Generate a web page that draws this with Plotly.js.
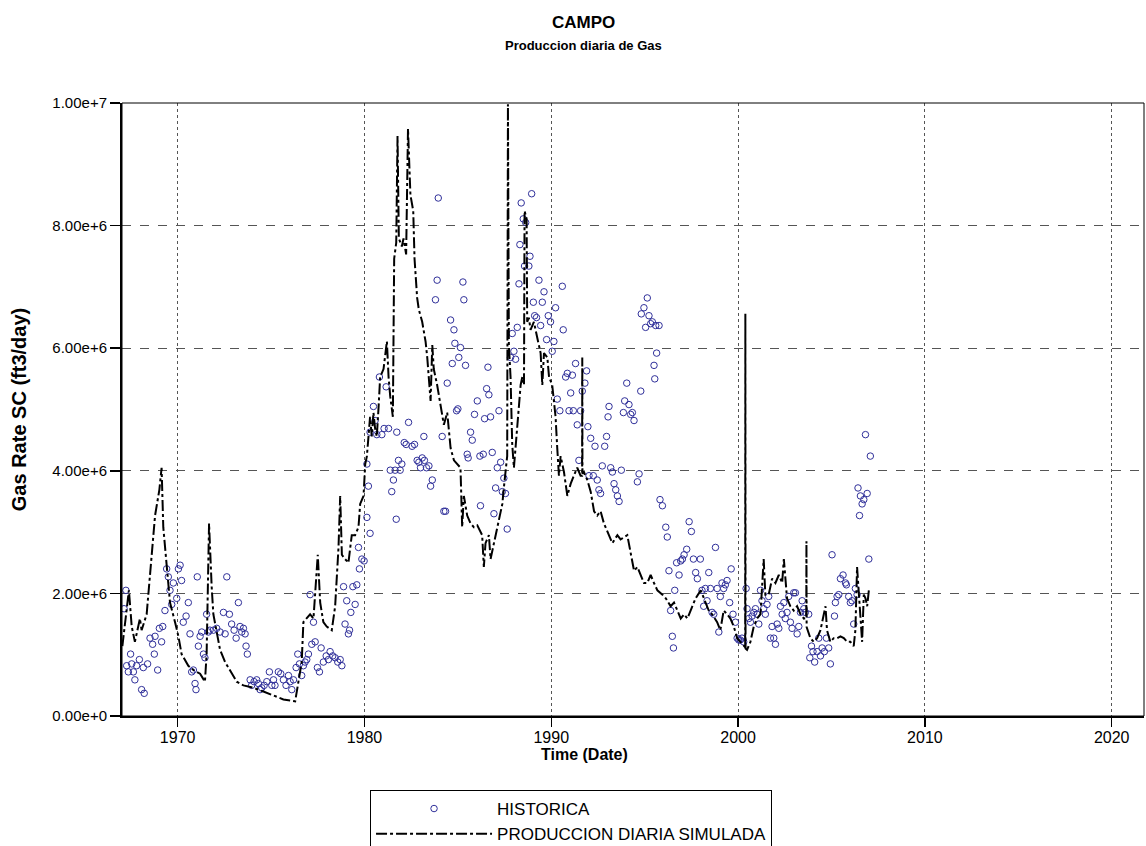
<!DOCTYPE html>
<html>
<head>
<meta charset="utf-8">
<script src="https://cdn.plot.ly/plotly-3.0.1.min.js"></script>
<style>html,body{margin:0;padding:0;background:#fff;}#chart{width:1146px;height:846px;}</style>
</head>
<body>
<div id="chart"></div>
<script>
// Values in millions of ft3/day (converted to ft3/day below)
const UNIT = 1e6;

const histYear = [
1967.13,1967.23,1967.27,1967.36,1967.48,1967.54,1967.63,1967.71,1967.80,1967.95,1968.07,1968.16,1968.21,1968.39,1968.52,1968.66,1968.75,1968.79,1968.93,1969.02,
1969.14,1969.20,1969.32,1969.41,1969.50,1969.59,1969.68,1969.77,1969.95,1970.04,1970.13,1970.21,1970.30,1970.45,1970.57,1970.66,1970.75,1970.84,1970.93,1970.98,
1971.05,1971.11,1971.20,1971.29,1971.38,1971.46,1971.55,1971.64,1971.73,1971.91,1972.09,1972.27,1972.45,1972.54,1972.63,1972.77,1972.89,1973.02,1973.13,1973.25,
1973.34,1973.43,1973.52,1973.61,1973.66,1973.73,1973.88,1973.96,1974.09,1974.23,1974.32,1974.41,1974.50,1974.63,1974.77,1974.91,1975.04,1975.13,1975.21,1975.39,
1975.52,1975.66,1975.80,1975.93,1976.02,1976.11,1976.20,1976.34,1976.43,1976.52,1976.64,1976.73,1976.82,1976.91,1977.00,1977.09,1977.18,1977.27,1977.36,1977.48,
1977.59,1977.68,1977.80,1977.95,1978.07,1978.16,1978.30,1978.43,1978.57,1978.70,1978.79,1978.88,1978.96,1979.05,1979.14,1979.20,1979.27,1979.38,1979.50,1979.59,
1979.68,1979.73,1979.86,1979.98,1980.13,1980.30,1980.21,1980.13,1980.30,1980.48,1980.57,1980.66,1980.80,1980.93,1981.05,1981.16,1981.29,1981.38,1981.46,1981.55,
1981.64,1981.70,1981.73,1981.82,1981.91,1982.00,1982.13,1982.23,1982.36,1982.55,1982.68,1982.82,1982.91,1983.00,1983.09,1983.18,1983.21,1983.32,1983.45,1983.54,
1983.63,1983.80,1983.89,1983.95,1984.16,1984.25,1984.34,1984.43,1984.61,1984.70,1984.79,1984.84,1984.93,1985.00,1985.05,1985.14,1985.27,1985.32,1985.41,1985.50,
1985.55,1985.68,1985.77,1985.89,1986.04,1986.18,1986.21,1986.36,1986.43,1986.54,1986.61,1986.66,1986.75,1986.84,1986.93,1987.02,1987.11,1987.20,1987.29,1987.38,
1987.46,1987.55,1987.64,1987.82,1987.91,1988.00,1988.09,1988.18,1988.27,1988.32,1988.39,1988.50,1988.57,1988.63,1988.80,1988.86,1988.95,1989.04,1989.11,1989.21,
1989.34,1989.43,1989.52,1989.61,1989.75,1989.84,1989.96,1990.05,1990.14,1990.23,1990.32,1990.46,1990.59,1990.64,1990.77,1990.86,1990.95,1991.04,1991.13,1991.18,
1991.30,1991.39,1991.48,1991.57,1991.66,1991.80,1991.89,1991.96,1992.02,1992.11,1992.25,1992.34,1992.46,1992.55,1992.64,1992.73,1992.86,1992.96,1993.04,1993.09,
1993.18,1993.27,1993.36,1993.45,1993.54,1993.63,1993.75,1993.86,1993.93,1994.04,1994.16,1994.25,1994.34,1994.43,1994.61,1994.70,1994.79,1994.82,1994.96,1995.05,
1995.14,1995.23,1995.32,1995.41,1995.50,1995.54,1995.59,1995.64,1995.77,1995.82,1995.95,1996.13,1996.21,1996.30,1996.39,1996.48,1996.54,1996.61,1996.71,1996.84,
1996.93,1997.02,1997.11,1997.25,1997.38,1997.50,1997.61,1997.73,1997.82,1997.98,1998.07,1998.16,1998.25,1998.34,1998.43,1998.52,1998.61,1998.70,1998.79,1998.88,
1998.97,1999.05,1999.14,1999.23,1999.32,1999.41,1999.55,1999.63,1999.73,1999.86,1999.95,2000.04,2000.12,2000.21,2000.30,2000.43,2000.48,2000.57,2000.66,2000.75,
2000.84,2000.93,2001.02,2001.11,2001.20,2001.28,2001.37,2001.46,2001.55,2001.64,2001.73,2001.82,2001.91,2002.00,2002.09,2002.18,2002.27,2002.36,2002.45,2002.53,
2002.62,2002.71,2002.80,2002.89,2002.98,2003.07,2003.16,2003.25,2003.34,2003.43,2003.52,2003.60,2003.78,2003.84,2003.93,2004.01,2004.10,2004.23,2004.32,2004.41,
2004.50,2004.62,2004.73,2004.85,2004.94,2005.03,2005.16,2005.21,2005.30,2005.39,2005.48,2005.62,2005.75,2005.80,2005.92,2006.01,2006.10,2006.19,2006.28,2006.37,
2006.42,2006.50,2006.55,2006.64,2006.73,2006.82,2006.91,2007.00,2007.08
];
const histRate = [
1.75,2.05,0.82,0.72,1.01,0.85,0.72,0.59,0.82,0.92,0.43,0.79,0.37,0.85,1.27,1.17,1.01,1.30,0.75,1.43,
1.21,1.46,1.72,2.40,2.27,2.05,1.82,2.17,1.92,2.40,2.46,2.21,1.53,1.63,1.85,1.34,0.72,0.75,0.53,0.43,
2.27,1.14,1.30,1.37,1.01,0.95,1.66,1.37,1.40,1.40,1.43,1.37,1.69,1.34,2.27,1.66,1.50,1.40,1.27,1.85,
1.46,1.37,1.43,1.34,1.14,1.01,0.59,0.50,0.56,0.59,0.53,0.43,0.46,0.50,0.56,0.72,0.50,0.59,0.50,0.72,
0.69,0.59,0.50,0.66,0.56,0.43,0.59,0.79,1.01,0.85,0.66,0.82,0.88,0.92,1.01,1.98,1.17,1.53,1.21,0.79,
0.72,1.11,0.88,0.98,0.92,1.05,0.98,0.95,0.88,0.92,0.82,2.11,1.50,1.88,1.34,1.40,1.69,2.11,1.82,2.14,
2.75,2.40,2.56,2.53,3.24,2.98,3.75,4.11,4.63,5.05,4.82,4.59,5.53,4.59,4.69,5.37,4.69,4.01,3.66,3.85,
4.01,3.21,4.63,4.17,4.01,4.11,4.46,4.43,4.79,4.40,4.43,4.17,4.14,4.05,4.21,4.56,4.17,4.05,4.08,3.75,
3.85,6.79,7.11,8.45,4.56,3.34,3.34,5.43,6.46,5.75,6.30,6.08,4.98,5.01,5.85,6.01,7.08,6.79,5.72,4.27,
4.21,4.63,4.50,4.92,5.14,4.24,3.43,4.27,4.85,5.34,5.69,5.24,4.88,4.30,3.30,3.72,4.05,4.98,4.14,3.66,
3.88,3.63,3.05,5.85,6.24,5.95,5.82,6.34,7.05,7.69,8.37,8.11,7.34,8.05,7.34,7.50,8.52,6.75,6.53,6.50,
7.11,6.37,6.75,6.92,6.14,6.53,6.43,5.95,6.11,6.66,5.17,4.98,7.01,6.30,5.53,5.59,4.98,5.27,5.56,4.98,
5.75,4.75,4.17,4.98,5.30,5.43,5.63,4.72,3.92,4.53,3.92,4.40,3.85,3.69,3.63,4.08,4.40,4.56,4.88,5.05,
4.05,3.98,3.79,3.69,3.59,3.50,4.01,4.95,5.14,5.43,5.08,4.92,4.95,4.82,3.82,3.95,5.30,6.56,6.66,6.34,
6.82,6.53,6.40,6.43,5.72,5.50,6.37,5.92,6.37,3.53,3.43,3.08,2.92,2.37,1.72,1.30,1.11,2.05,2.50,2.30,
2.53,2.56,2.63,2.72,3.17,3.01,2.56,2.34,2.24,2.56,2.05,1.79,2.08,1.88,2.34,2.08,1.69,1.66,2.75,2.08,
1.37,1.95,2.17,2.08,2.14,2.21,1.85,2.40,1.66,1.53,1.27,1.24,1.24,1.27,1.21,2.08,1.75,1.59,1.53,1.63,
1.69,1.75,1.66,1.50,2.05,1.88,1.75,1.66,1.82,1.95,1.27,1.46,1.27,1.17,1.50,1.43,1.79,1.66,1.85,1.59,
1.69,1.95,1.53,1.43,2.01,2.01,1.34,1.46,1.69,1.88,1.75,1.69,1.66,0.95,1.14,1.05,0.88,1.05,1.27,0.98,
1.11,1.05,1.27,1.11,0.85,2.63,1.63,1.85,1.95,1.98,2.24,2.30,2.17,2.14,1.95,1.85,1.88,1.50,2.08,1.98,
3.72,3.27,3.59,3.46,3.53,4.59,3.63,2.56,4.24
];

const simYear = [
1967.04,1967.39,1967.54,1967.71,1967.98,1968.07,1968.34,1968.52,1968.79,1969.02,1969.09,1969.14,1969.23,1969.41,1969.59,1969.86,1970.04,1970.21,1970.57,1970.84,
1971.20,1971.46,1971.55,1971.68,1971.73,1971.82,1971.91,1972.09,1972.27,1972.54,1972.80,1973.16,1973.52,1974.05,1974.59,1975.13,1975.66,1976.29,1976.46,1976.64,
1976.73,1976.91,1977.09,1977.27,1977.50,1977.63,1977.80,1977.98,1978.25,1978.43,1978.61,1978.70,1978.79,1978.96,1979.14,1979.32,1979.50,1979.68,1979.77,1979.95,
1980.04,1980.13,1980.21,1980.30,1980.39,1980.48,1980.57,1980.66,1980.75,1980.84,1981.02,1981.20,1981.29,1981.38,1981.52,1981.59,1981.70,1981.77,1981.84,1982.00,
1982.09,1982.23,1982.33,1982.46,1982.61,1982.68,1982.82,1982.91,1983.09,1983.18,1983.27,1983.36,1983.45,1983.54,1983.63,1983.71,1983.89,1984.07,1984.25,1984.43,
1984.61,1984.79,1984.96,1985.14,1985.23,1985.32,1985.50,1985.68,1985.86,1986.04,1986.30,1986.39,1986.48,1986.66,1986.75,1986.84,1987.02,1987.20,1987.38,1987.46,
1987.55,1987.64,1987.68,1987.73,1987.82,1987.91,1988.00,1988.09,1988.18,1988.27,1988.36,1988.45,1988.54,1988.57,1988.68,1988.71,1988.80,1988.89,1989.07,1989.25,
1989.43,1989.52,1989.61,1989.79,1989.88,1990.05,1990.23,1990.32,1990.41,1990.50,1990.68,1990.86,1991.04,1991.21,1991.39,1991.57,1991.65,1991.66,1991.67,1991.75,
1991.93,1992.11,1992.29,1992.46,1992.64,1992.82,1993.00,1993.27,1993.54,1993.71,1994.07,1994.25,1994.43,1994.61,1994.79,1994.96,1995.14,1995.32,1995.50,1995.68,
1995.95,1996.13,1996.39,1996.57,1996.75,1996.93,1997.11,1997.29,1997.55,1997.73,1998.00,1998.25,1998.43,1998.61,1998.88,1999.05,1999.23,1999.41,1999.59,1999.77,
1999.95,2000.12,2000.30,2000.38,2000.39,2000.40,2000.48,2000.66,2000.84,2001.02,2001.20,2001.37,2001.46,2001.64,2001.82,2002.00,2002.18,2002.36,2002.45,2002.53,
2002.62,2002.80,2002.98,2003.16,2003.34,2003.52,2003.65,2003.66,2003.67,2003.87,2004.05,2004.23,2004.41,2004.59,2004.68,2004.76,2004.94,2005.12,2005.30,2005.48,
2005.66,2005.84,2006.01,2006.19,2006.28,2006.37,2006.46,2006.55,2006.64,2006.73,2006.82,2006.91,2007.00
];
const simRate = [
1.14,2.05,1.46,1.21,1.59,1.40,1.66,2.30,3.27,3.69,3.92,4.05,3.08,2.43,1.85,1.53,1.30,1.01,0.82,0.75,
0.69,0.56,1.01,3.14,2.63,2.11,1.66,1.34,1.08,0.88,0.75,0.56,0.50,0.46,0.40,0.34,0.27,0.24,0.56,0.88,
1.53,1.59,1.66,1.59,2.63,1.85,1.53,1.46,1.40,1.79,2.75,3.59,2.63,2.56,2.50,2.95,2.95,3.08,3.46,3.59,
4.11,4.24,4.56,4.88,4.56,4.95,4.69,4.56,5.01,5.53,5.66,6.11,5.53,5.21,4.88,7.46,7.72,9.46,7.79,7.66,
7.79,7.53,9.58,8.50,8.24,7.46,6.82,6.63,6.43,6.30,6.11,5.85,5.40,5.14,6.05,5.66,5.40,5.08,4.75,4.95,
4.37,4.17,4.11,4.05,3.08,3.59,3.27,3.14,3.08,3.11,2.95,2.43,2.82,2.95,2.56,2.69,2.95,3.21,3.46,3.72,
3.98,4.24,9.98,6.05,5.53,4.43,4.05,4.37,4.69,5.01,5.40,5.53,5.40,8.24,8.11,6.43,6.50,6.30,6.43,6.17,
5.92,5.40,5.92,5.85,5.53,5.40,4.88,4.37,3.92,4.24,3.98,3.59,3.79,3.92,4.05,3.92,3.92,5.85,3.95,3.98,
3.85,3.66,3.34,3.27,3.34,3.14,3.01,2.82,2.95,2.88,2.95,2.63,2.37,2.43,2.30,2.17,2.17,2.30,2.17,2.05,
1.98,1.92,1.79,1.85,1.72,1.59,1.66,1.59,1.79,1.92,2.05,1.85,1.72,1.66,1.53,1.40,1.72,1.66,1.59,1.46,
1.27,1.21,1.14,1.12,6.56,1.10,1.08,1.21,1.46,1.59,1.66,2.56,1.98,1.98,2.24,2.17,2.30,2.17,2.56,2.30,
1.92,1.79,1.72,1.79,1.66,1.59,1.60,2.85,1.45,1.27,1.21,1.27,1.40,1.66,1.79,1.40,1.21,1.27,1.27,1.30,
1.27,1.21,1.21,1.14,1.40,2.43,2.05,1.66,1.21,1.98,1.92,1.79,2.05
];

const FONT = 'Liberation Sans, Arial, sans-serif';

const traces = [
  {
    type: 'scatter', mode: 'markers', name: 'HISTORICA',
    x: histYear, y: histRate.map(v => v * UNIT),
    marker: {symbol: 'circle-open', size: 6.5, color: '#30309a', line: {width: 1, color: '#30309a'}},
    hoverinfo: 'x+y'
  },
  {
    type: 'scatter', mode: 'lines', name: 'PRODUCCION DIARIA SIMULADA',
    x: simYear, y: simRate.map(v => v * UNIT),
    line: {color: '#000000', width: 2, dash: '11px,3px,3px,3px'},
    hoverinfo: 'x+y'
  }
];

const layout = {
  width: 1146, height: 846,
  margin: {l: 122, r: 2, t: 103, b: 130, autoexpand: false},
  paper_bgcolor: '#ffffff', plot_bgcolor: '#ffffff',
  font: {family: FONT, color: '#000'},
  showlegend: true,
  xaxis: {
    range: [1967.02, 2021.73], tick0: 1970, dtick: 10, tickmode: 'linear',
    ticks: 'outside', ticklen: 9, tickwidth: 1.5, tickcolor: '#000',
    ticklabelstandoff: -3,
    showline: true, linewidth: 2, linecolor: '#000', mirror: false,
    showgrid: true, gridcolor: '#555', gridwidth: 1, griddash: 'dot',
    zeroline: false, automargin: false,
    tickfont: {size: 16, family: FONT, color: '#000'}
  },
  yaxis: {
    range: [0, 1e7], tick0: 0, dtick: 2e6, tickmode: 'linear', tickformat: '.2e',
    ticks: 'outside', ticklen: 10, tickwidth: 1.5, tickcolor: '#000',
    showline: true, linewidth: 2, linecolor: '#000', mirror: false,
    showgrid: true, gridcolor: '#555', gridwidth: 1, griddash: 'dash',
    zeroline: false, automargin: false,
    tickfont: {size: 15, family: FONT, color: '#000'},
    title: {text: '<b>Gas Rate SC (ft3/day)</b>', font: {size: 20, family: FONT, color: '#000'}, standoff: 20}
  },
  legend: {
    x: 0.2427, xanchor: 'left', y: -0.1207, yanchor: 'top',
    bordercolor: '#000', borderwidth: 1, bgcolor: '#fff',
    font: {size: 17, family: FONT, color: '#000'},
    itemwidth: 116, tracegroupgap: 0
  },
  shapes: [
    {type: 'rect', xref: 'paper', yref: 'paper', x0: 0, x1: 1, y0: 0, y1: 1,
     line: {color: '#000', width: 1}, fillcolor: 'rgba(0,0,0,0)', layer: 'above'}
  ],
  annotations: [
    {text: '<b>CAMPO</b>', xref: 'paper', yref: 'paper', x: 0.4511, y: 1.132,
     xanchor: 'center', yanchor: 'middle', showarrow: false, font: {size: 17, family: FONT, color: '#000'}},
    {text: '<b>Produccion diaria de Gas</b>', xref: 'paper', yref: 'paper', x: 0.4511, y: 1.093,
     xanchor: 'center', yanchor: 'middle', showarrow: false, font: {size: 13, family: FONT, color: '#000'}},
    {text: '<b>Time (Date)</b>', xref: 'paper', yref: 'paper', x: 0.4530, y: -0.0636,
     xanchor: 'center', yanchor: 'middle', showarrow: false, font: {size: 16, family: FONT, color: '#000'}}
  ]
};

Plotly.newPlot('chart', traces, layout, {displayModeBar: false, staticPlot: true});
</script>
</body>
</html>
